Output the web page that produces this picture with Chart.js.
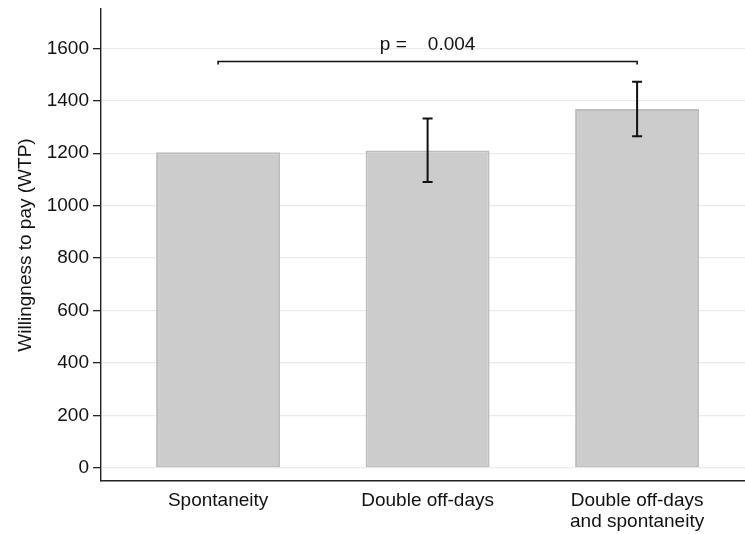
<!DOCTYPE html>
<html>
<head>
<meta charset="utf-8">
<script src="https://cdn.jsdelivr.net/npm/chart.js@4/dist/chart.umd.min.js"></script>
<style>
  html, body { margin: 0; padding: 0; background: #fff; }
  canvas { display: block; }
</style>
</head>
<body>
<canvas id="c" width="745" height="534"></canvas>
<script>
// ---- data ----
const categories = [["Spontaneity"], ["Double off-days"], ["Double off-days", "and spontaneity"]];
const positions = [1, 2, 3];
const wtp = [1204, 1210, 1369];
const ciLow = [null, 1090, 1265];
const ciHigh = [null, 1332, 1473];
const yTicks = [0, 200, 400, 600, 800, 1000, 1200, 1400, 1600];
const bracketFrom = 1, bracketTo = 3;
const bracketLevel = 1550, bracketTickEnd = 1538;
const pLabel = "p =    0.004";
const pLabelLevel = 1615;

const FONT = "'Liberation Sans', Arial, Helvetica, sans-serif";
const FS = 19;

const annot = {
  id: 'annot',
  afterDatasetsDraw(chart) {
    const ctx = chart.ctx, x = chart.scales.x, y = chart.scales.y;
    ctx.save();
    ctx.strokeStyle = '#111';
    ctx.lineWidth = 2;
    for (let i = 0; i < positions.length; i++) {
      if (ciLow[i] == null) continue;
      const px = x.getPixelForValue(positions[i]);
      const y1 = y.getPixelForValue(ciLow[i]), y2 = y.getPixelForValue(ciHigh[i]);
      ctx.beginPath();
      ctx.moveTo(px, y1); ctx.lineTo(px, y2);
      ctx.moveTo(px - 5, y1); ctx.lineTo(px + 5, y1);
      ctx.moveTo(px - 5, y2); ctx.lineTo(px + 5, y2);
      ctx.stroke();
    }
    const bx1 = x.getPixelForValue(bracketFrom), bx2 = x.getPixelForValue(bracketTo);
    const by = y.getPixelForValue(bracketLevel), bt = y.getPixelForValue(bracketTickEnd);
    ctx.lineWidth = 1.6;
    ctx.beginPath();
    ctx.moveTo(bx1, bt); ctx.lineTo(bx1, by); ctx.lineTo(bx2, by); ctx.lineTo(bx2, bt);
    ctx.stroke();
    ctx.fillStyle = '#111';
    ctx.font = FS + "px " + FONT;
    ctx.textAlign = 'center';
    ctx.textBaseline = 'middle';
    ctx.fillText(pLabel, (bx1 + bx2) / 2, y.getPixelForValue(pLabelLevel));
    ctx.restore();
  }
};

new Chart(document.getElementById('c'), {
  type: 'bar',
  data: {
    datasets: [{
      data: positions.map((p, i) => ({ x: p, y: wtp[i] })),
      backgroundColor: '#cccccc',
      borderColor: '#bdbdbd',
      borderWidth: 2,
      borderSkipped: false,
      categoryPercentage: 1,
      barPercentage: 0.592
    }]
  },
  plugins: [annot],
  options: {
    responsive: false,
    maintainAspectRatio: false,
    animation: false,
    devicePixelRatio: 1,
    layout: { padding: { top: 9, right: 0, left: 0, bottom: 0 } },
    plugins: { legend: { display: false }, tooltip: { enabled: false } },
    scales: {
      x: {
        type: 'linear',
        offset: false,
        min: 0.441,
        max: 3.515,
        afterBuildTicks(s) { s.ticks = positions.map(v => ({ value: v })); },
        afterFit(s) { s.height = 53; s.paddingLeft = 0; s.paddingRight = 0; },
        ticks: {
          autoSkip: false,
          maxRotation: 0,
          padding: 9,
          color: '#111',
          font: { family: FONT, size: FS, lineHeight: 1.1 },
          callback(v) { const i = positions.indexOf(v); return i >= 0 ? categories[i] : ''; }
        },
        grid: { display: true, offset: false, drawOnChartArea: false, drawTicks: false },
        border: { display: true, color: '#222', width: 1.4 }
      },
      y: {
        min: -50,
        max: 1750,
        afterBuildTicks(s) { s.ticks = yTicks.map(v => ({ value: v })); },
        afterFit(s) { s.width = 101; s.paddingTop = 0; s.paddingBottom = 0; },
        ticks: {
          autoSkip: false,
          padding: 4,
          color: '#111',
          font: { family: FONT, size: FS },
          callback(v) { return String(v); }
        },
        grid: { color: '#ebebeb', lineWidth: 1.3, tickColor: '#222', tickLength: 8, tickWidth: 1.3 },
        border: { display: true, color: '#222', width: 1.4 },
        title: {
          display: true,
          text: 'Willingness to pay (WTP)',
          color: '#111',
          font: { family: FONT, size: FS },
          padding: { top: 14, bottom: 0 }
        }
      }
    }
  }
});
</script>
</body>
</html>
